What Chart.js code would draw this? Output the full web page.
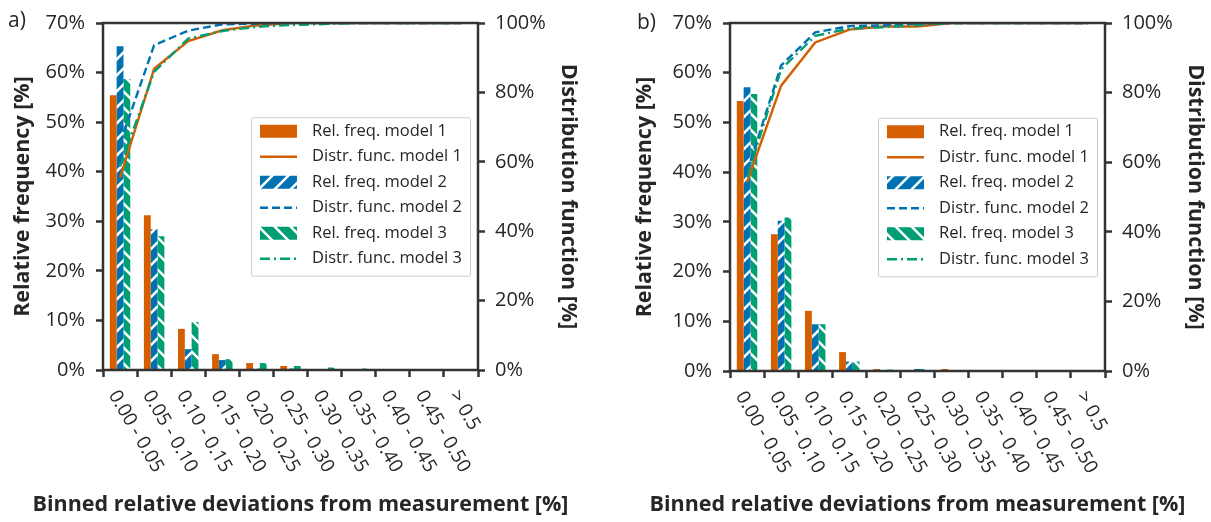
<!DOCTYPE html>
<html>
<head>
<meta charset="utf-8">
<script src="https://cdn.jsdelivr.net/npm/chart.js@4.4.1/dist/chart.umd.min.js"></script>
<style>
  body { margin: 0; background: #fff; width: 1211px; height: 522px; overflow: hidden; position: relative; font-family: "Open Sans", sans-serif; }
  .panel { position: absolute; top: 0; height: 522px; }
  #pa { left: 0; width: 605px; }
  #pb { left: 605px; width: 606px; }
  .tag { position: absolute; font-size: 21px; color: #262626; line-height: 1; }
</style>
</head>
<body>
<div class="panel" id="pa"><canvas id="chartA"></canvas></div>
<div class="panel" id="pb"><canvas id="chartB"></canvas></div>
<div class="tag" style="left:8px;top:9px">a)</div>
<div class="tag" style="left:637px;top:11px">b)</div>
<script>
const bins = ["0.00 - 0.05", "0.05 - 0.10", "0.10 - 0.15", "0.15 - 0.20", "0.20 - 0.25",
  "0.25 - 0.30", "0.30 - 0.35", "0.35 - 0.40", "0.40 - 0.45", "0.45 - 0.50", "> 0.5"];
const freqTicks = [0, 10, 20, 30, 40, 50, 60, 70];
const distTicks = [0, 20, 40, 60, 80, 100];

// panel a) relative frequency [%]
const freqA1 = [55.4, 31.2, 8.3, 3.2, 1.4, 0.8, 0, 0, 0, 0, 0];
const freqA2 = [65.3, 28.4, 4.2, 2.0, 0.3, 0.3, 0, 0, 0, 0, 0];
const freqA3 = [58.7, 27.0, 9.7, 2.2, 1.4, 0.8, 0.5, 0.3, 0, 0, 0];
// panel a) distribution function [%]
const distA1 = [55.4, 86.8, 94.8, 97.9, 99.3, 100, 100, 100, 100, 100, 100];
const distA2 = [65.3, 93.6, 97.8, 99.6, 99.8, 100, 100, 100, 100, 100, 100];
const distA3 = [58.7, 85.9, 95.5, 97.7, 98.9, 99.4, 99.7, 100, 100, 100, 100];

// panel b)
const freqB1 = [54.3, 27.5, 12.1, 3.8, 0.4, 0, 0.4, 0, 0, 0, 0];
const freqB2 = [57.1, 30.2, 9.4, 1.9, 0, 0.4, 0, 0, 0, 0, 0];
const freqB3 = [55.7, 30.9, 9.4, 1.9, 0.3, 0.4, 0, 0, 0, 0, 0];
const distB1 = [54.3, 82.0, 94.4, 98.1, 99.0, 99.0, 100, 100, 100, 100, 100];
const distB2 = [57.1, 87.8, 97.3, 99.1, 99.3, 99.9, 100, 100, 100, 100, 100];
const distB3 = [55.7, 86.7, 96.3, 98.4, 98.8, 99.4, 100, 100, 100, 100, 100];

const modelNames = ["model 1", "model 2", "model 3"];
const colors = ["#D55E00", "#0072B2", "#009E73"];
const dashes = [[], [8, 4], [10, 4, 2, 4]];
const INK = "#262626";
const FRAME = "#333333";

Chart.defaults.font.family = '"Open Sans", sans-serif';
Chart.defaults.color = INK;

function hatch(color, dir) {
  const s = 16;
  const c = document.createElement("canvas");
  c.width = c.height = s;
  const g = c.getContext("2d");
  g.fillStyle = color;
  g.fillRect(0, 0, s, s);
  g.strokeStyle = "#fff";
  g.lineWidth = 2.6;
  g.beginPath();
  if (dir > 0) {
    g.moveTo(0, s); g.lineTo(s, 0);
    g.moveTo(-2, 2); g.lineTo(2, -2);
    g.moveTo(s - 2, s + 2); g.lineTo(s + 2, s - 2);
  } else {
    g.moveTo(0, 0); g.lineTo(s, s);
    g.moveTo(-2, s - 2); g.lineTo(2, s + 2);
    g.moveTo(s - 2, -2); g.lineTo(s + 2, 2);
  }
  g.stroke();
  return g.createPattern(c, "repeat");
}
const fills = [colors[0], hatch(colors[1], 1), hatch(colors[2], -1)];

// box around the plot area, drawn over the lines
const frame = {
  id: "frame",
  afterDatasetsDraw(chart) {
    const { ctx, chartArea: a } = chart;
    ctx.save();
    ctx.strokeStyle = FRAME;
    ctx.lineWidth = 2.5;
    ctx.strokeRect(a.left, a.top, a.right - a.left, a.bottom - a.top);
    ctx.restore();
  }
};

// rotated category labels + x title (matplotlib style, text starts at the tick)
const xLabels = {
  id: "xLabels",
  afterDraw(chart, args, opts) {
    const { ctx, scales: { x }, chartArea: a } = chart;
    ctx.save();
    ctx.fillStyle = INK;
    ctx.font = '19px "Open Sans"';
    ctx.textAlign = "left";
    ctx.textBaseline = "middle";
    x.ticks.forEach((t, i) => {
      ctx.save();
      ctx.translate(x.getPixelForTick(i) - 7, x.top + 22);
      ctx.rotate(Math.PI / 3);
      ctx.fillText(x.getLabelForValue(t.value), 0, 0);
      ctx.restore();
    });
    ctx.font = 'bold 21.5px "Open Sans"';
    ctx.textAlign = "center";
    ctx.fillText(opts.title, (a.left + a.right) / 2 + opts.shift, opts.y);
    ctx.restore();
  }
};

// legend box at "center right" inside the plot
const legendBox = {
  id: "legendBox",
  afterDraw(chart) {
    const { ctx, chartArea: a } = chart;
    const items = chart.data.datasets;
    const rowH = 25.5, padL = 9, sym = 37, gap = 15, padR = 8, padT = 14, padB = 17;
    ctx.save();
    ctx.font = '16.5px "Open Sans"';
    const textW = Math.max(...items.map(d => ctx.measureText(d.label).width));
    const w = padL + sym + gap + textW + padR;
    const h = padT + padB + rowH * (items.length - 1);
    const left = a.right - 8 - w;
    const top = (a.top + a.bottom) / 2 - h / 2;
    ctx.fillStyle = "rgba(255,255,255,0.85)";
    ctx.strokeStyle = "#cccccc";
    ctx.lineWidth = 1;
    ctx.beginPath();
    ctx.roundRect(left + 0.5, top + 0.5, w, h, 2);
    ctx.fill();
    ctx.stroke();
    items.forEach((d, i) => {
      const cy = top + padT + i * rowH;
      const sx = left + padL;
      if (d.type === "bar") {
        ctx.fillStyle = d.backgroundColor;
        ctx.fillRect(sx, cy - 6.5, sym, 13);
      } else {
        ctx.strokeStyle = d.borderColor;
        ctx.lineWidth = d.borderWidth;
        ctx.setLineDash(d.borderDash);
        ctx.beginPath();
        ctx.moveTo(sx, cy);
        ctx.lineTo(sx + sym, cy);
        ctx.stroke();
        ctx.setLineDash([]);
      }
      ctx.fillStyle = INK;
      ctx.textAlign = "left";
      ctx.textBaseline = "middle";
      ctx.fillText(d.label, sx + sym + gap, cy);
    });
    ctx.restore();
  }
};

function makeChart(id, freqs, dists, g) {
  const datasets = [];
  for (let m = 0; m < 3; m++) {
    datasets.push({
      type: "bar",
      label: "Rel. freq. " + modelNames[m],
      data: freqs[m],
      backgroundColor: fills[m],
      borderWidth: 0,
      categoryPercentage: 0.6,
      barPercentage: 1.0,
      yAxisID: "y",
      order: 10
    });
    datasets.push({
      type: "line",
      label: "Distr. func. " + modelNames[m],
      data: dists[m],
      borderColor: colors[m],
      borderWidth: 2.4,
      borderDash: dashes[m],
      pointRadius: 0,
      tension: 0,
      fill: false,
      yAxisID: "y1",
      order: 3 - m
    });
  }
  const tickGrid = { display: true, drawOnChartArea: false, drawTicks: true, tickLength: 7, tickWidth: 2.5, tickColor: FRAME };
  const titleFont = { size: 21.5, weight: "bold" };
  return new Chart(document.getElementById(id), {
    data: { labels: bins, datasets },
    options: {
      responsive: true,
      maintainAspectRatio: false,
      animation: false,
      layout: { padding: { top: g.top, left: 0, right: 0, bottom: 0 } },
      plugins: {
        legend: { display: false },
        tooltip: { enabled: false },
        xLabels: { title: "Binned relative deviations from measurement [%]", shift: g.titleShift, y: 505 }
      },
      scales: {
        x: {
          type: "category",
          offset: true,
          grid: tickGrid,
          border: { display: false },
          ticks: { display: false },
          afterFit: s => { s.height = g.xH; }
        },
        y: {
          position: "left",
          min: 0, max: 70,
          afterBuildTicks: s => { s.ticks = freqTicks.map(v => ({ value: v })); },
          grid: tickGrid,
          border: { display: false },
          ticks: { font: { size: 20 }, color: INK, padding: 11, callback: v => v + "%" },
          title: { display: true, text: "Relative frequency [%]", font: titleFont, color: INK, padding: { top: g.leftTitlePad, bottom: 0 } },
          afterFit: s => { s.width = g.leftW; }
        },
        y1: {
          position: "right",
          min: 0, max: 100,
          afterBuildTicks: s => { s.ticks = distTicks.map(v => ({ value: v })); },
          grid: tickGrid,
          border: { display: false },
          ticks: { font: { size: 20 }, color: INK, padding: 10, callback: v => v + "%" },
          title: { display: true, text: "Distribution function [%]", font: titleFont, color: INK, padding: { top: g.rightTitlePad, bottom: 0 } },
          afterFit: s => { s.width = g.rightW; }
        }
      }
    },
    plugins: [frame, xLabels, legendBox]
  });
}

makeChart("chartA", [freqA1, freqA2, freqA3], [distA1, distA2, distA3],
  { top: 17, xH: 152, leftW: 103, rightW: 127, leftTitlePad: 10, rightTitlePad: 24, titleShift: 10 });
makeChart("chartB", [freqB1, freqB2, freqB3], [distB1, distB2, distB3],
  { top: 19, xH: 151, leftW: 125, rightW: 106, leftTitlePad: 27, rightTitlePad: 3, titleShift: 0 });
</script>
</body>
</html>
